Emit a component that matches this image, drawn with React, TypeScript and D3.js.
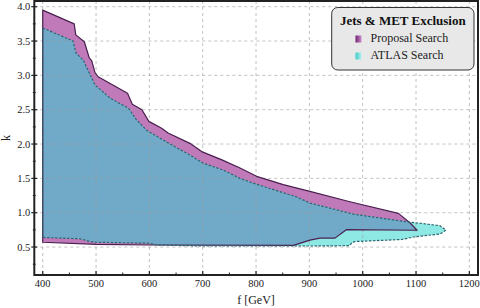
import React from "react";
import * as d3 from "d3";

// ---- data ----
const proposalUpperF = [400, 459, 462, 478, 487, 492, 498, 504, 559, 568, 586, 599, 623, 635, 676, 698, 736, 770, 801, 851, 901, 976, 1067, 1089, 1102];
const proposalUpperK = [3.95, 3.75, 3.59, 3.49, 3.26, 3.21, 3.04, 2.98, 2.74, 2.58, 2.5, 2.33, 2.23, 2.16, 2.01, 1.89, 1.77, 1.65, 1.53, 1.41, 1.31, 1.16, 0.99, 0.85, 0.745];
const proposalLowerF = [400, 500, 600, 870, 901, 920, 948, 970, 1102];
const proposalLowerK = [0.57, 0.54, 0.53, 0.525, 0.6, 0.63, 0.63, 0.755, 0.745];

const atlasUpperF = [400, 457, 462, 476, 489, 498, 507, 526, 561, 576, 595, 632, 676, 701, 739, 770, 795, 876, 901, 942, 982, 1089, 1104, 1145, 1156];
const atlasUpperK = [3.69, 3.5, 3.33, 3.22, 3.01, 2.86, 2.8, 2.67, 2.52, 2.35, 2.2, 2.03, 1.84, 1.72, 1.62, 1.5, 1.43, 1.23, 1.14, 1.06, 0.98, 0.86, 0.85, 0.81, 0.745];
const atlasLowerF = [400, 470, 489, 500, 600, 614, 700, 800, 900, 975, 979, 985, 1073, 1098, 1145, 1156];
const atlasLowerK = [0.64, 0.62, 0.58, 0.57, 0.555, 0.53, 0.515, 0.515, 0.515, 0.52, 0.555, 0.58, 0.61, 0.65, 0.69, 0.745];

const xTicks = [400, 500, 600, 700, 800, 900, 1000, 1100, 1200];
const xMinor = [450, 550, 650, 750, 850, 950, 1050, 1150];
const yTicks = [0.5, 1.0, 1.5, 2.0, 2.5, 3.0, 3.5, 4.0];
const yMinor = [0.25, 0.75, 1.25, 1.75, 2.25, 2.75, 3.25, 3.75];

const legendTitle = "Jets & MET Exclusion";
const seriesNames = ["Proposal Search", "ATLAS Search"];

// ---- layout ----
const W = 480, H = 308;
const L = 34.3, R = 478, T = 1, B = 275;

const x = d3.scaleLinear().domain([384.2, 1216.2]).range([L, R]);
const y = d3.scaleLinear().domain([0.093, 4.083]).range([B, T]);

const zip = (f: number[], k: number[]) => f.map((v, i) => [v, k[i]] as [number, number]);
const polygon = (uf: number[], uk: number[], lf: number[], lk: number[]) =>
  zip(uf, uk).concat(zip(lf, lk).reverse());

const line = d3.line<[number, number]>().x(d => x(d[0])).y(d => y(d[1]));
const proposalPath = line(polygon(proposalUpperF, proposalUpperK, proposalLowerF, proposalLowerK)) + "Z";
const atlasPath = line(polygon(atlasUpperF, atlasUpperK, atlasLowerF, atlasLowerK)) + "Z";

const PURPLE = "#c07ab9";
const PURPLE_DARK = "#4a1f50";
const CYAN = "#8ee8e3";
const TEAL_DARK = "#2a6670";
const BLUE = "#71a9c8";

export default function App() {
  const font = "'Liberation Serif', 'Times New Roman', serif";
  return (
    <svg width={W} height={H} style={{ position: "absolute", left: 0, top: 0, background: "#fff" }} fontFamily={font}>
      <defs>
        <clipPath id="plot"><rect x={L} y={T} width={R - L} height={B - T} /></clipPath>
        <clipPath id="propClip"><path d={proposalPath} /></clipPath>
        <linearGradient id="gP" x1="0" x2="1" y1="0" y2="0">
          <stop offset="0" stopColor="#6a1f6e" />
          <stop offset="1" stopColor="#d08fcc" />
        </linearGradient>
        <linearGradient id="gA" x1="0" x2="1" y1="0" y2="0">
          <stop offset="0" stopColor="#3fc9c4" />
          <stop offset="1" stopColor="#b2f2ee" />
        </linearGradient>
      </defs>
      <g clipPath="url(#plot)">
        <path d={proposalPath} fill={PURPLE} />
        <path d={atlasPath} fill={CYAN} />
        <path d={atlasPath} fill={BLUE} clipPath="url(#propClip)" />
        {xTicks.map(t => (
          <line key={"gx" + t} x1={x(t)} x2={x(t)} y1={T} y2={B} stroke="#999" strokeOpacity={0.6} strokeDasharray="3,3" strokeWidth={1} />
        ))}
        {yTicks.map(t => (
          <line key={"gy" + t} x1={L} x2={R} y1={y(t)} y2={y(t)} stroke="#999" strokeOpacity={0.6} strokeDasharray="3,3" strokeWidth={1} />
        ))}
        <path d={proposalPath} fill="none" stroke={PURPLE_DARK} strokeWidth={1.2} strokeLinejoin="round" />
        <path d={atlasPath} fill="none" stroke={TEAL_DARK} strokeWidth={1.2} strokeDasharray="2.5,1.5" strokeLinejoin="round" />
      </g>
      {/* ticks */}
      {xTicks.map(t => (
        <g key={"xt" + t}>
          <line x1={x(t)} x2={x(t)} y1={B} y2={B - 4} stroke="#222" strokeWidth={1.2} />
          <text x={x(t)} y={B + 12} fontSize={10.5} textAnchor="middle" fill="#222">{t}</text>
        </g>
      ))}
      {xMinor.map(t => (
        <line key={"xm" + t} x1={x(t)} x2={x(t)} y1={B} y2={B - 2.5} stroke="#222" strokeWidth={1} />
      ))}
      {yTicks.map(t => (
        <g key={"yt" + t}>
          <line x1={L - 3} x2={L + 3} y1={y(t)} y2={y(t)} stroke="#222" strokeWidth={1.2} />
          <text x={L - 4} y={y(t) + 3.6} fontSize={10.5} textAnchor="end" fill="#222">{d3.format(".1f")(t)}</text>
        </g>
      ))}
      {yMinor.map(t => (
        <line key={"ym" + t} x1={L - 1.5} x2={L + 1.5} y1={y(t)} y2={y(t)} stroke="#222" strokeWidth={1} />
      ))}
      <rect x={L} y={T} width={R - L} height={B - T} fill="none" stroke="#222" strokeWidth={2} />
      <text x={x(800)} y={304} fontSize={12} textAnchor="middle" fill="#222">f [GeV]</text>
      <text transform={`translate(10,${(T + B) / 2}) rotate(-90)`} fontSize={12} textAnchor="middle" fill="#222">k</text>
      {/* legend */}
      <g>
        <rect x={331.7} y={7.5} width={142.3} height={62.5} rx={6} fill="#e8e8e8" stroke="#333" strokeWidth={1} />
        <text x={402.8} y={25} fontSize={13} fontWeight="bold" textAnchor="middle" fill="#111">{legendTitle}</text>
        <rect x={355.5} y={35.5} width={6} height={7} fill="url(#gP)" />
        <text x={370.5} y={42} fontSize={12} fill="#222">{seriesNames[0]}</text>
        <rect x={355.5} y={52.5} width={6} height={7} fill="url(#gA)" />
        <text x={370.5} y={59} fontSize={12} fill="#222">{seriesNames[1]}</text>
      </g>
    </svg>
  );
}
